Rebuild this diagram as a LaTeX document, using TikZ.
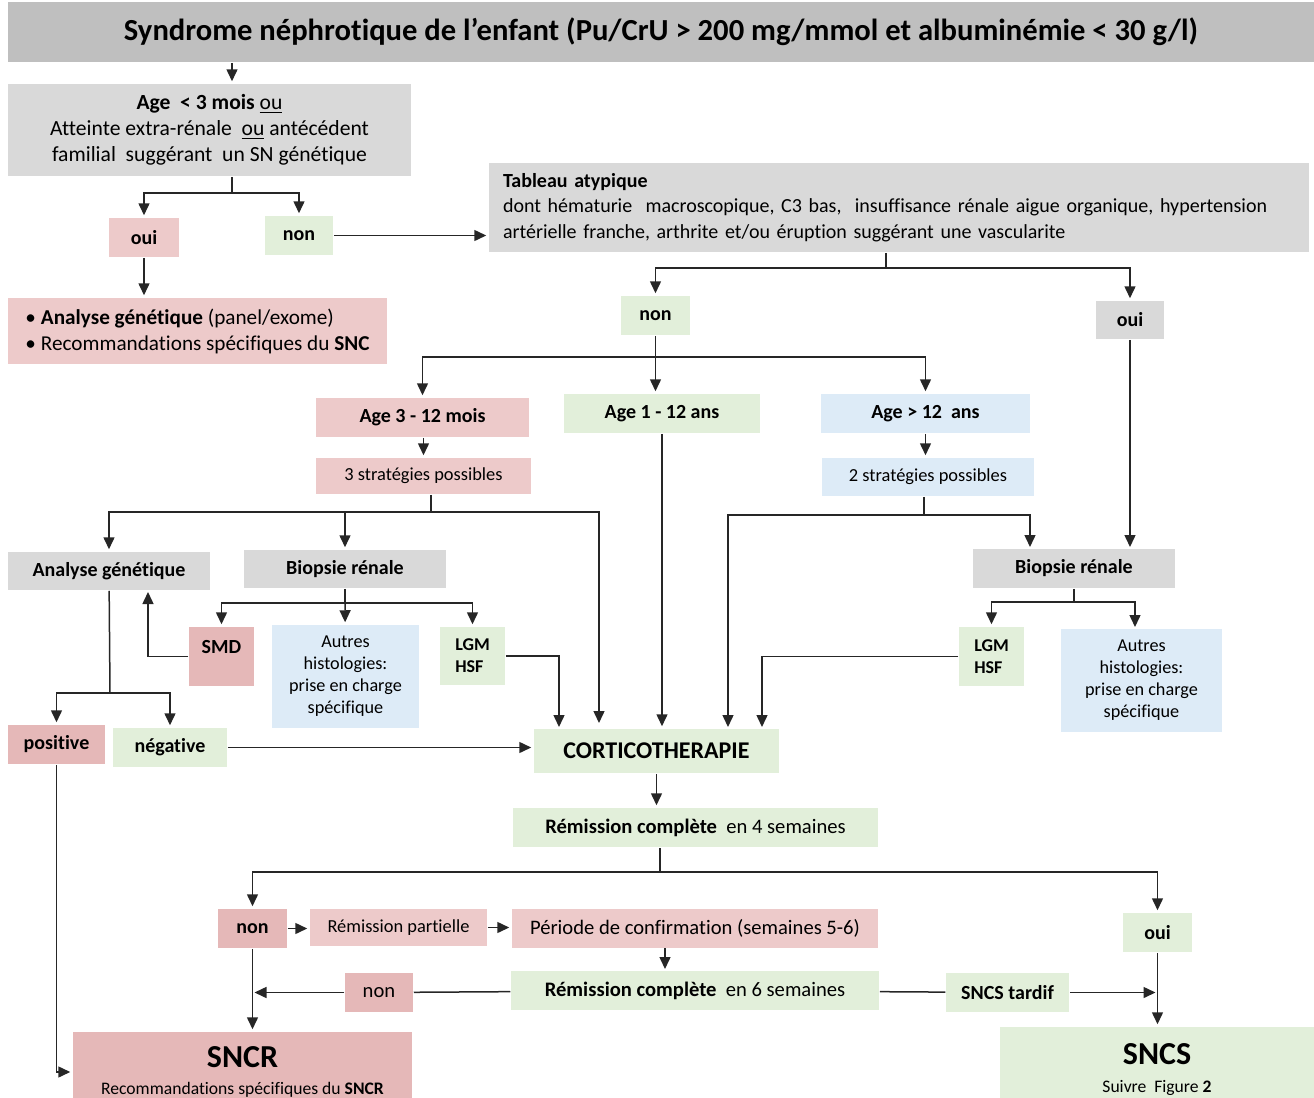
\documentclass[tikz,border=0pt]{standalone}
\usepackage{fontspec}
\setmainfont{Carlito}[Ligatures=NoCommon]
\usetikzlibrary{arrows.meta}

\definecolor{titlegrey}{RGB}{191,191,191}
\definecolor{boxgrey}{RGB}{217,217,217}
\definecolor{boxpink}{RGB}{237,202,202}
\definecolor{boxrose}{RGB}{229,184,184}
\definecolor{boxgreen}{RGB}{226,239,218}
\definecolor{boxblue}{RGB}{221,235,247}

\begin{document}
\begin{tikzpicture}[x=0.5pt, y=-0.5pt, line width=0.75pt, draw=black!85,
    every node/.style={inner sep=0pt, align=center, font=\fontsize{10.3}{12.8}\selectfont},
    sz/.style 2 args={minimum width=#1*0.5pt, minimum height=#2*0.5pt},
    bold/.style={font=\fontsize{10}{12.8}\selectfont\bfseries},
    small/.style={font=\fontsize{9.2}{11}\selectfont},
    arr/.style={-{Triangle[length=6pt,width=5.5pt]}, shorten >=1pt}]

        \useasboundingbox (0,0) rectangle (1314,1098);

        %===========================
        % Top of the tree
        %===========================

        \node (title) at (661,32) [fill=titlegrey, sz={1306}{60}, font=\fontsize{15.3}{18}\selectfont\bfseries]
            {Syndrome néphrotique de l’enfant (Pu/CrU > 200 mg/mmol et albuminémie < 30 g/l)};
        \node (q1) at (209.5,130) [fill=boxgrey, sz={403}{92}, font=\fontsize{10.8}{13}\selectfont]
            {\textbf{Age\ \ < 3 mois} \underline{ou}\\ Atteinte extra-rénale\ \ \underline{ou} antécédent\\ familial\ \ suggérant\ \ un SN génétique};
        \node (oui1) at (144,237.5) [fill=boxpink, sz={70}{39}, bold] {oui};
        \node (non1) at (299,235.5) [fill=boxgreen, sz={68}{39}, bold] {non};
        \node (genet1) at (197.5,331) [fill=boxpink, sz={379}{66}, align=left, font=\fontsize{10.6}{13}\selectfont]
            {•\hspace{2.5pt}\textbf{Analyse génétique} (panel/exome)\\ •\hspace{2.5pt}Recommandations spécifiques du \textbf{SNC}};
        \node (atyp) at (899,207.5) [fill=boxgrey, minimum height=44.5pt, text width=396pt, inner xsep=7pt, align=left,
            font=\fontsize{10}{12.6}\selectfont]
            {\textbf{Tableau atypique}\\ dont hématurie\ \ macroscopique, C3 bas,\ \ insuffisance rénale aigue organique, hypertension\\ artérielle franche, arthrite et/ou éruption suggérant une vascularite};
        \node (non2) at (655.5,315.5) [fill=boxgreen, sz={69}{39}, bold] {non};
        \node (oui2) at (1130,320) [fill=boxgrey, sz={68}{38}, bold] {oui};

        \coordinate (q1b) at (232,193);
        \coordinate (ab) at (886,268);
        \draw[arr] (title.south -| q1b) -- (q1.north -| q1b);
        \draw (q1.south -| q1b) -- (q1b);
        \draw[arr] (q1b) -| (oui1);
        \draw[arr] (q1b) -| (non1);
        \draw[arr] (oui1.south) -- (oui1.south |- genet1.north);
        \draw[arr] (non1) -- (non1 -| atyp.west);
        \draw (atyp.south -| ab) -- (ab);
        \draw[arr] (ab) -| (non2);
        \draw[arr] (ab) -| (oui2);

        %===========================
        % Age groups
        %===========================

        \node (age312) at (422.5,417.5) [fill=boxpink, sz={213}{39}, bold] {Age 3 - 12 mois};
        \node (age112) at (662,413.5) [fill=boxgreen, sz={196}{39}, bold] {Age 1 - 12 ans};
        \node (age12) at (925.5,413.5) [fill=boxblue, sz={209}{39}, bold] {Age > 12\ \ ans};
        \node (strat3) at (423.5,476) [fill=boxpink, sz={215}{36}, small] {3 stratégies possibles};
        \node (strat2) at (928,477) [fill=boxblue, sz={212}{38}, small] {2 stratégies possibles};

        \coordinate (nb) at (655.5,357);
        \draw[arr] (non2) -- (non2 |- age112.north);
        \draw[arr] (nb) -| (age312);
        \draw[arr] (nb) -| (age12);
        \draw[arr] (oui2) -- (oui2 |- 0,549);
        \draw[arr] (age312.south -| strat3) -- (strat3);
        \draw[arr] (age12.south) -- (age12.south |- strat2.north);

        %===========================
        % Strategies
        %===========================

        \node (genet2) at (109,571) [fill=boxgrey, sz={202}{38}, bold] {Analyse génétique};
        \node (biop1) at (345,569) [fill=boxgrey, sz={202}{38}, bold] {Biopsie rénale};
        \node (biop2) at (1074,568.5) [fill=boxgrey, sz={202}{39}, bold] {Biopsie rénale};
        \node (smd) at (221.5,656.5) [fill=boxrose, sz={65}{59}, bold, text depth=10pt] {SMD};
        \node (autres1) at (345.5,676.5) [fill=boxblue, sz={147}{103}, font=\fontsize{9.1}{11}\selectfont]
            {Autres\\histologies:\\prise en charge\\spécifique};
        \node (lgm1) at (472.5,656) [fill=boxgreen, sz={65}{58}, align=left, font=\fontsize{9}{11}\selectfont\bfseries] {LGM\\HSF};
        \node (lgm2) at (991.5,656.5) [fill=boxgreen, sz={65}{59}, align=left, font=\fontsize{9}{11}\selectfont\bfseries] {LGM\\HSF};
        \node (autres2) at (1141.5,680.5) [fill=boxblue, sz={161}{103}, font=\fontsize{9.1}{11}\selectfont]
            {Autres\\histologies:\\prise en charge\\spécifique};
        \node (positive) at (56.5,744.5) [fill=boxrose, sz={97}{39}, bold] {positive};
        \node (negative) at (170,747.5) [fill=boxgreen, sz={114}{39}, bold] {négative};
        \node (cortico) at (656.5,751) [fill=boxgreen, sz={245}{44}, font=\fontsize{12}{14}\selectfont\bfseries] {CORTICOTHERAPIE};

        \coordinate (s3b) at (431,512);
        \coordinate (s2b) at (924,515);
        \coordinate (b1b) at (345,603);
        \coordinate (b2b) at (1074,602);
        \coordinate (g2b) at (110,693);
        \draw (s3b |- strat3.south) -- (s3b);
        \draw[arr] (s3b) -| (genet2);
        \draw[arr] (s3b) -| (biop1);
        \draw[arr] (s3b) -| (599,725);
        \draw (s2b |- strat2.south) -- (s2b);
        \draw[arr] (s2b) -| (1030,549);
        \draw[arr] (s2b) -| (728,729);
        \draw[arr] (age112) -- (age112 |- cortico.north);
        \draw (biop1) -- (b1b);
        \draw[arr] (b1b) -| (smd);
        \draw[arr] (b1b) -- (autres1);
        \draw[arr] (b1b) -| (lgm1);
        \draw[arr] (smd) -| (148,590);
        \draw (genet2) -- (g2b);
        \draw[arr] (g2b) -| (positive);
        \draw[arr] (g2b) -| (negative);
        \draw[arr] (lgm1) -| (559,729);
        \draw (biop2) -- (b2b);
        \draw[arr] (b2b) -| (lgm2);
        \draw[arr] (b2b) -| (1135,629);
        \draw[arr] (lgm2) -| (762,729);
        \draw[arr] (negative) -- (negative -| cortico.west);

        %===========================
        % Response to treatment
        %===========================

        \node (rc4) at (695.5,827.5) [fill=boxgreen, sz={365}{39}] {\textbf{Rémission complète}\ \ en 4 semaines};
        \node (non3) at (252.5,928.5) [fill=boxrose, sz={69}{39}, bold] {non};
        \node (rp) at (398.5,927.5) [fill=boxpink, sz={177}{37}, small] {Rémission partielle};
        \node (periode) at (695,928.5) [fill=boxpink, sz={366}{39}] {Période de confirmation (semaines 5-6)};
        \node (oui3) at (1157.5,932.5) [fill=boxgreen, sz={69}{39}, bold] {oui};
        \node (rc6) at (695,990.5) [fill=boxgreen, sz={368}{39}] {\textbf{Rémission complète}\ \ en 6 semaines};
        \node (non4) at (379,992.5) [fill=boxrose, sz={68}{39}] {non};
        \node (tardif) at (1007.5,992.5) [fill=boxgreen, sz={123}{39}, bold] {SNCS tardif};
        \node (sncr) at (242.5,1072) [fill=boxrose, sz={339}{80}]
            {{\fontsize{16}{18}\selectfont\bfseries SNCR}\\[1pt]{\fontsize{8.8}{10}\selectfont Recommandations spécifiques du \textbf{SNCR}}};
        \node (sncs) at (1157,1069.5) [fill=boxgreen, sz={314}{85}]
            {{\fontsize{16}{18}\selectfont\bfseries SNCS}\\[1pt]{\fontsize{8.8}{10}\selectfont Suivre\ \ Figure \textbf{2}}};

        \coordinate (r4b) at (660,872);
        \draw[arr] (positive) |- (sncr);
        \draw[arr] (cortico) -- (cortico |- rc4.north);
        \draw (rc4.south -| r4b) -- (r4b);
        \draw[arr] (r4b) -| (non3);
        \draw[arr] (r4b) -| (oui3);
        \draw[arr] (non3) -- (non3 -| rp.west);
        \draw[arr] (rp) -- (rp -| periode.west);
        \draw[arr] (665,948) -- (665,971);
        \draw[arr] (non3) -- (non3 |- sncr.north);
        \draw (rc6) -- (non4);
        \draw[arr] (non4) -- (non4 -| non3);
        \draw (rc6) -- (tardif);
        \draw[arr] (tardif) -- (tardif -| oui3);
        \draw[arr] (oui3) -- (oui3 |- sncs.north);

\end{tikzpicture}
\end{document}
